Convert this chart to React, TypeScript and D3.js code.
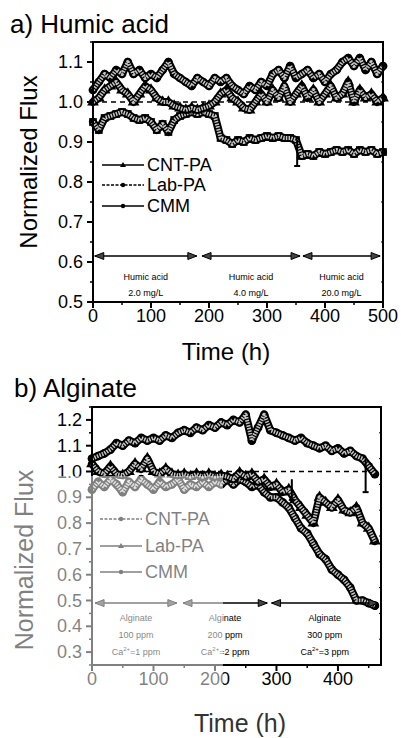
import React from "react";
import * as d3 from "d3";

// ---------- Panel a: Humic acid ----------
const tA = [0,10,20,30,40,50,60,70,80,90,100,110,120,130,140,150,160,170,180,190,200,210,220,230,240,250,260,270,280,290,300,310,320,330,340,350,360,370,380,390,400,410,420,430,440,450,460,470,480,490,500];
const labA = [1.03,1.05,1.07,1.06,1.08,1.07,1.1,1.07,1.08,1.06,1.07,1.06,1.08,1.1,1.07,1.06,1.05,1.04,1.06,1.05,1.04,1.06,1.05,1.06,1.04,1.03,1.02,1.04,1.03,1.05,1.04,1.07,1.08,1.06,1.09,1.06,1.07,1.08,1.06,1.07,1.05,1.07,1.08,1.1,1.11,1.09,1.11,1.08,1.1,1.07,1.09];
const cntA = [1.0,1.01,1.03,1.04,1.05,1.03,1.02,1.0,1.02,1.04,1.03,1.01,1.0,1.0,0.99,0.985,0.98,0.985,0.98,0.985,0.99,1.0,1.02,1.03,1.01,1.0,0.985,0.98,1.0,1.02,1.0,1.03,1.01,1.04,1.0,1.02,1.04,1.01,1.03,1.0,1.02,1.04,1.01,1.02,1.05,1.0,1.03,1.01,1.02,1.0,1.01];
const cmmA = [0.95,0.93,0.96,0.965,0.97,0.975,0.97,0.96,0.955,0.96,0.95,0.93,0.945,0.925,0.955,0.965,0.97,0.975,0.97,0.975,0.97,0.965,0.91,0.905,0.895,0.905,0.9,0.91,0.905,0.91,0.915,0.91,0.915,0.91,0.91,0.905,0.865,0.87,0.865,0.875,0.87,0.875,0.88,0.875,0.88,0.87,0.88,0.875,0.88,0.87,0.875];
const yTicksA = [0.5,0.6,0.7,0.8,0.9,1.0,1.1];
const yMinorA = [0.55,0.65,0.75,0.85,0.95,1.05,1.15];
const xTicksA = [0,100,200,300,400,500];
const xMinorA = [50,150,250,350,450];
const phasesA = [[3,179],[188,357],[362,495]];
const phaseTextA = [["Humic acid","2.0 mg/L"],["Humic acid","4.0 mg/L"],["Humic acid","20.0 mg/L"]];
const legendA = ["CNT-PA","Lab-PA","CMM"];

// ---------- Panel b: Alginate ----------
const tB = [0,10,20,30,40,50,60,70,80,90,100,110,120,130,140,150,160,170,180,190,200,210,220,230,240,250,260,270,280,290,300,310,320,330,340,350,360,370,380,390,400,410,420,430,440,450,460];
const cntB = [1.05,1.06,1.07,1.085,1.11,1.1,1.12,1.11,1.13,1.12,1.13,1.12,1.14,1.13,1.15,1.16,1.15,1.17,1.16,1.18,1.17,1.19,1.18,1.2,1.19,1.22,1.12,1.17,1.22,1.16,1.15,1.14,1.13,1.12,1.13,1.11,1.1,1.09,1.1,1.08,1.09,1.07,1.08,1.06,1.05,1.02,0.99];
const labB = [1.03,1.0,0.99,1.02,0.99,0.985,1.0,1.03,1.01,1.05,1.0,0.99,1.01,0.99,0.985,0.99,0.98,0.99,0.98,0.99,0.98,0.985,0.98,0.97,0.995,0.98,0.99,0.96,0.97,0.94,0.95,0.92,0.93,0.89,0.86,0.83,0.8,0.9,0.88,0.86,0.89,0.85,0.84,0.86,0.8,0.78,0.73];
const cmmB = [0.93,0.96,0.94,0.97,0.95,0.92,0.96,0.94,0.97,0.95,0.93,0.96,0.94,0.95,0.97,0.93,0.95,0.94,0.96,0.94,0.96,0.95,0.97,0.95,0.97,0.96,0.94,0.95,0.92,0.9,0.9,0.88,0.86,0.82,0.78,0.76,0.72,0.68,0.66,0.62,0.6,0.58,0.55,0.5,0.5,0.49,0.48];
const yTicksB = [0.3,0.4,0.5,0.6,0.7,0.8,0.9,1.0,1.1,1.2];
const yMinorB = [0.25,0.35,0.45,0.55,0.65,0.75,0.85,0.95,1.05,1.15,1.25];
const xTicksB = [0,100,200,300,400];
const xMinorB = [50,150,250,350,450];
const phasesB = [[5,138],[148,285],[292,465]];
const phaseTextB = [["Alginate","100 ppm","1 ppm"],["Alginate","200 ppm","2 ppm"],["Alginate","300 ppm","3 ppm"]];
const legendB = ["CNT-PA","Lab-PA","CMM"];

// error bars [time, low, high]
const errA = [[352,0.84,0.905]];
const errB1 = [[445,0.92,1.05]];
const errB2 = [[325,0.89,0.97]];

const FONT = "'Liberation Sans', Arial, Helvetica, sans-serif";

function Series({ t, v, x, y, shape }) {
  const line = d3.line().x((_, i) => x(t[i])).y((d) => y(d));
  const p = line(v);
  const sym = d3.symbol().type(shape === "tri" ? d3.symbolTriangle : shape === "sq" ? d3.symbolSquare : d3.symbolCircle).size(60)();
  return (
    <g>
      <path d={p} fill="none" stroke="#000" strokeWidth={8} strokeLinejoin="round" strokeLinecap="round" />
      {v.map((d, i) => (
        <path key={i} d={sym} transform={`translate(${x(t[i])},${y(d)})`} fill="#000" />
      ))}
      <path d={p} fill="none" stroke="#c4c4c4" strokeWidth={4} strokeDasharray="1.5 1.2" strokeLinejoin="round" />
    </g>
  );
}

function Errs({ list, x, y }) {
  return (
    <g>
      {list.map((e, i) => (
        <g key={i} stroke="#000" strokeWidth={2}>
          <line x1={x(e[0])} x2={x(e[0])} y1={y(e[1])} y2={y(e[2])} />
          <line x1={x(e[0]) - 3} x2={x(e[0]) + 3} y1={y(e[1])} y2={y(e[1])} />
        </g>
      ))}
    </g>
  );
}

function Axes({ x, y, xTicks, xMinor, yTicks, yMinor, yFmt }) {
  const [x0, x1] = x.range();
  const [y0, y1] = y.range();
  return (
    <g fontFamily={FONT}>
      <rect x={x0} y={y1} width={x1 - x0} height={y0 - y1} fill="none" stroke="#000" strokeWidth={2} />
      {yTicks.map((v) => (
        <g key={"y" + v}>
          <line x1={x0 - 6} x2={x0} y1={y(v)} y2={y(v)} stroke="#000" strokeWidth={2} />
          <text x={x0 - 10} y={y(v) + 6} fontSize={18} textAnchor="end">{yFmt(v)}</text>
        </g>
      ))}
      {yMinor.map((v) => (
        <g key={"ym" + v}>
          <line x1={x0 - 3} x2={x0} y1={y(v)} y2={y(v)} stroke="#000" strokeWidth={1.5} />
          <line x1={x1} x2={x1 - 2} y1={y(v)} y2={y(v)} stroke="#000" strokeWidth={1} />
        </g>
      ))}
      {xTicks.map((v) => (
        <g key={"x" + v}>
          <line x1={x(v)} x2={x(v)} y1={y0} y2={y0 + 6} stroke="#000" strokeWidth={2} />
          <text x={x(v)} y={y0 + 20} fontSize={18} textAnchor="middle">{v}</text>
        </g>
      ))}
      {xMinor.map((v) => (
        <line key={"xm" + v} x1={x(v)} x2={x(v)} y1={y0} y2={y0 + 3} stroke="#000" strokeWidth={1.5} />
      ))}
    </g>
  );
}

function Phases({ phases, x, y, level }) {
  const yy = y(level);
  return (
    <g>
      {phases.map((p, i) => {
        const a = x(p[0]);
        const b = x(p[1]);
        return (
          <g key={i}>
            <line x1={a} x2={b} y1={yy} y2={yy} stroke="#000" strokeWidth={1.5} />
            <path d={`M${a},${yy} L${a + 9},${yy - 3.5} L${a + 9},${yy + 3.5} Z`} fill="#444" stroke="#000" strokeWidth={1} />
            <path d={`M${b},${yy} L${b - 9},${yy - 3.5} L${b - 9},${yy + 3.5} Z`} fill="#444" stroke="#000" strokeWidth={1} />
          </g>
        );
      })}
    </g>
  );
}

function Legend({ names, x0, ys, markers }) {
  return (
    <g fontFamily={FONT}>
      {names.map((n, i) => (
        <g key={n}>
          <line x1={x0} x2={x0 + 42} y1={ys[i]} y2={ys[i]} stroke="#000" strokeWidth={1.5} strokeDasharray={markers[i].dash} />
          {markers[i].shape === "tri" ? (
            <path d={`M${x0 + 21},${ys[i] - 3} L${x0 + 24},${ys[i] + 2} L${x0 + 18},${ys[i] + 2} Z`} fill="#000" />
          ) : (
            <circle cx={x0 + 21} cy={ys[i]} r={2.2} fill="#000" />
          )}
          <text x={x0 + 45} y={ys[i] + 6} fontSize={18}>{n}</text>
        </g>
      ))}
    </g>
  );
}

export default function App() {
  const xA = d3.scaleLinear().domain([0, 500]).range([93, 383]);
  const yA = d3.scaleLinear().domain([0.5, 1.15]).range([302, 42]);
  const xB = d3.scaleLinear().domain([0, 470]).range([92, 381]);
  const yB = d3.scaleLinear().domain([0.25, 1.25]).range([665, 407]);
  const fmt = d3.format(".1f");

  return (
    <svg width={401} height={738} style={{ position: "absolute", left: 0, top: 0, background: "#fff" }}>
      <rect x={0} y={0} width={401} height={738} fill="#fff" />
      {/* Panel a */}
      <text x={10} y={33} fontFamily={FONT} fontSize={26}>a) Humic acid</text>
      <line x1={xA(0)} x2={xA(500)} y1={yA(1)} y2={yA(1)} stroke="#000" strokeWidth={1.5} strokeDasharray="5 4" />
      <Series t={tA} v={cmmA} x={xA} y={yA} shape="sq" />
      <Series t={tA} v={cntA} x={xA} y={yA} shape="tri" />
      <Series t={tA} v={labA} x={xA} y={yA} shape="circ" />
      <Errs list={errA} x={xA} y={yA} />
      <Axes x={xA} y={yA} xTicks={xTicksA} xMinor={xMinorA} yTicks={yTicksA} yMinor={yMinorA} yFmt={fmt} />
      <Phases phases={phasesA} x={xA} y={yA} level={0.615} />
      {phasesA.map((p, i) => (
        <g key={i} fontFamily={FONT} fontSize={9} textAnchor="middle">
          <text x={xA((p[0] + p[1]) / 2)} y={280}>{phaseTextA[i][0]}</text>
          <text x={xA((p[0] + p[1]) / 2)} y={296}>{phaseTextA[i][1]}</text>
        </g>
      ))}
      <Legend names={legendA} x0={102} ys={[165, 185, 206]}
        markers={[{ shape: "tri", dash: null }, { shape: "circ", dash: "3 1.5" }, { shape: "circ", dash: null }]} />
      <text transform="translate(37,162) rotate(-90)" textAnchor="middle" fontFamily={FONT} fontSize={24}>Normalized Flux</text>
      <text x={226} y={360} textAnchor="middle" fontFamily={FONT} fontSize={24}>Time (h)</text>

      {/* Panel b */}
      <text x={14} y={397} fontFamily={FONT} fontSize={26}>b) Alginate</text>
      <line x1={xB(0)} x2={xB(470)} y1={yB(1)} y2={yB(1)} stroke="#000" strokeWidth={1.5} strokeDasharray="5 4" />
      <Series t={tB} v={cmmB} x={xB} y={yB} shape="circ" />
      <Series t={tB} v={labB} x={xB} y={yB} shape="tri" />
      <Series t={tB} v={cntB} x={xB} y={yB} shape="circ" />
      <Errs list={errB1} x={xB} y={yB} />
      <Errs list={errB2} x={xB} y={yB} />
      <Axes x={xB} y={yB} xTicks={xTicksB} xMinor={xMinorB} yTicks={yTicksB} yMinor={yMinorB} yFmt={fmt} />
      <Phases phases={phasesB} x={xB} y={yB} level={0.49} />
      {phasesB.map((p, i) => (
        <g key={i} fontFamily={FONT} fontSize={9} textAnchor="middle">
          <text x={xB((p[0] + p[1]) / 2)} y={621}>{phaseTextB[i][0]}</text>
          <text x={xB((p[0] + p[1]) / 2)} y={638}>{phaseTextB[i][1]}</text>
          <text x={xB((p[0] + p[1]) / 2)} y={655}>Ca<tspan dy={-4} fontSize={6}>2+</tspan><tspan dy={4}>={phaseTextB[i][2]}</tspan></text>
        </g>
      ))}
      <Legend names={legendB} x0={100} ys={[519, 546, 572]}
        markers={[{ shape: "circ", dash: "3 1.5" }, { shape: "tri", dash: null }, { shape: "circ", dash: null }]} />
      <text transform="translate(33,560) rotate(-90)" textAnchor="middle" fontFamily={FONT} fontSize={25}>Normalized Flux</text>

      {/* faded watermark area of the scanned figure */}
      <path d="M0,440 L52,440 L52,476 L223,476 L223,702 L0,702 Z" fill="#fff" opacity={0.5} />
      <text x={240} y={732} textAnchor="middle" fontFamily={FONT} fontSize={25} fill="#333">Time (h)</text>
    </svg>
  );
}
